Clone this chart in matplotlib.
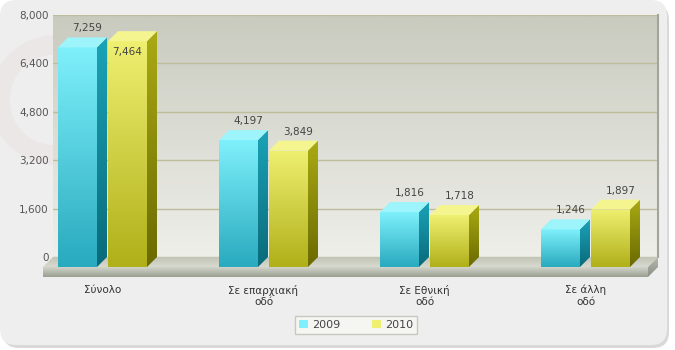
import numpy as np
import matplotlib
matplotlib.use('Agg')
import matplotlib.pyplot as plt
from matplotlib.patches import Polygon, Patch, FancyBboxPatch, Circle
from matplotlib.colors import to_rgb
from matplotlib.transforms import IdentityTransform

# data
categories = ['Σύνολο', 'Σε επαρχιακή\nοδό', 'Σε Εθνική\nοδό', 'Σε άλλη\nοδό']
series_names = ['2009', '2010']
y2009 = [7259, 4197, 1816, 1246]
y2010 = [7464, 3849, 1718, 1897]
yticks = [0, 1600, 3200, 4800, 6400, 8000]

# colours: front top, front bottom, side top, side bottom, top face
cyan = ['#7ef0fb', '#29aabe', '#1ba3b8', '#0a6a7a', '#9ef4fb']
olive = ['#efef70', '#b0b01a', '#aaaa14', '#6a6a02', '#f5f590']

W, H = 675, 350
fig = plt.figure(figsize=(W / 100, H / 100), dpi=100)
fig.patch.set_facecolor('white')

# panel with shadow (behind the axes)
sh = FancyBboxPatch((3, 2), 666, 344, boxstyle='round,pad=0,rounding_size=16',
                    transform=IdentityTransform(), fc='#d9d9d9', ec='none', zorder=-3)
pan = FancyBboxPatch((0, 5), 667, 345, boxstyle='round,pad=0,rounding_size=16',
                     transform=IdentityTransform(), fc='#eeeeee', ec='none', zorder=-2)
logo = Circle((55, 250), 55, transform=IdentityTransform(), fc='none',
              ec='#e6d0d0', lw=14, alpha=0.22, zorder=-1)
fig.patches.extend([sh, pan, logo])

# geometry (pixels)
gap_px = 161.0
bw_px = 39.0
half_off_px = 25.0
depth_px = 10.0
ymax = 8000
h_px = 242.0

# back wall axes
axb = fig.add_axes([53 / W, (H - 257) / H, 605 / W, h_px / H])
axb.set_facecolor('none')
g = np.linspace(0, 1, 64)[:, None, None]
wall = (1 - g) * np.array(to_rgb('#c6c8bb')) + g * np.array(to_rgb('#efefea'))
axb.imshow(wall, extent=(0, 1, 0, 1), transform=axb.transAxes, aspect='auto',
           interpolation='bilinear', zorder=0, alpha=0.92)
axb.set_xlim(0, 1)
axb.set_ylim(0, ymax)
axb.set_yticks(yticks)
axb.set_yticklabels([f'{t:,}' for t in yticks])
axb.set_xticks([])
axb.yaxis.grid(True, color='#bdbd9c', lw=1)
axb.tick_params(axis='y', length=0, pad=3, labelsize=7.5, labelcolor='#555555')
for s in ['top', 'left', 'bottom']:
    axb.spines[s].set_visible(False)
axb.spines['right'].set_color('#a2a69a')
axb.spines['right'].set_linewidth(1.5)

# front axes (bars + floor), spans the depth too so images are not cut
ax = fig.add_axes([43 / W, (H - 277) / H, (605 + depth_px) / W, (h_px + 2 * depth_px) / H])
ax.set_facecolor('none')
lo = (43 - 102.5) / gap_px
hi = lo + 605 / gap_px
dx = depth_px / gap_px
dy = depth_px * ymax / h_px
bw = bw_px / gap_px
off = half_off_px / gap_px


def grad(ax, verts, c_top, c_bot, z, clip_patch=None):
    if clip_patch is None:
        clip_patch = Polygon(verts, closed=True, fc='none', ec='none', zorder=z)
        ax.add_patch(clip_patch)
    xs = [v[0] for v in verts]
    ys = [v[1] for v in verts]
    img = (1 - g) * np.array(to_rgb(c_top)) + g * np.array(to_rgb(c_bot))
    im = ax.imshow(img, extent=(min(xs), max(xs), min(ys), max(ys)), aspect='auto',
                   interpolation='bilinear', origin='upper', zorder=z)
    im.set_clip_path(clip_patch)
    return im


# floor
grad(ax, [(lo, 0), (hi, 0), (hi + dx, dy), (lo + dx, dy)], '#c2c4b7', '#d8dacf', 1)
grad(ax, [(lo, -dy), (hi, -dy), (hi, 0), (lo, 0)], '#d2d4c9', '#9a9e91', 1)
grad(ax, [(hi, -dy), (hi + dx, 0), (hi + dx, dy), (hi, 0)], '#b6b9ad', '#8c9084', 1)

x = np.arange(len(categories))
for xs_, vals, cols in [(x - off, y2009, cyan), (x + off, y2010, olive)]:
    bars = ax.bar(xs_, vals, width=bw, color=cols[1], zorder=3, lw=0)
    for rect, v in zip(bars, vals):
        x0 = rect.get_x()
        x1 = x0 + rect.get_width()
        grad(ax, [(x0, 0), (x1, 0), (x1, v), (x0, v)], cols[0], cols[1], 3, clip_patch=rect)
        grad(ax, [(x1, 0), (x1 + dx, dy), (x1 + dx, v + dy), (x1, v)], cols[2], cols[3], 3)
        ax.add_patch(Polygon([(x0, v), (x1, v), (x1 + dx, v + dy), (x0 + dx, v + dy)],
                             closed=True, fc=cols[4], ec='none', zorder=3))
        xc = x0 + rect.get_width() / 2
        if v + dy + 9 * ymax / h_px > ymax:
            ax.annotate(f'{v:,}', (xc, v), xytext=(0, -11), textcoords='offset pixels',
                        ha='center', va='center', fontsize=7.5, color='#444444', zorder=5)
        else:
            ax.annotate(f'{v:,}', (xc + dx, v + dy), xytext=(0, 9), textcoords='offset pixels',
                        ha='center', va='center', fontsize=7.5, color='#444444', zorder=5)

ax.set_xlim(lo, hi + dx)
ax.set_ylim(-dy, ymax + dy)
ax.set_xticks(x)
ax.set_xticklabels(categories)
ax.set_yticks([])
ax.tick_params(axis='x', length=0, pad=5.5, labelsize=7.5, labelcolor='#333333')
for s in ax.spines.values():
    s.set_visible(False)

handles = [Patch(fc=cyan[0], ec='none'), Patch(fc=olive[0], ec='none')]
leg = fig.legend(handles, series_names, loc='center', bbox_to_anchor=(356 / W, 1 - 325 / H),
                 ncol=2, fontsize=8, handlelength=0.8, handleheight=0.8, handletextpad=0.4,
                 columnspacing=2.8, borderpad=0.35, fancybox=False, framealpha=1,
                 edgecolor='#c8c8c0', facecolor='#f5f5f2')
for t in leg.get_texts():
    t.set_color('#444444')

fig.savefig('out.png', dpi=100)
